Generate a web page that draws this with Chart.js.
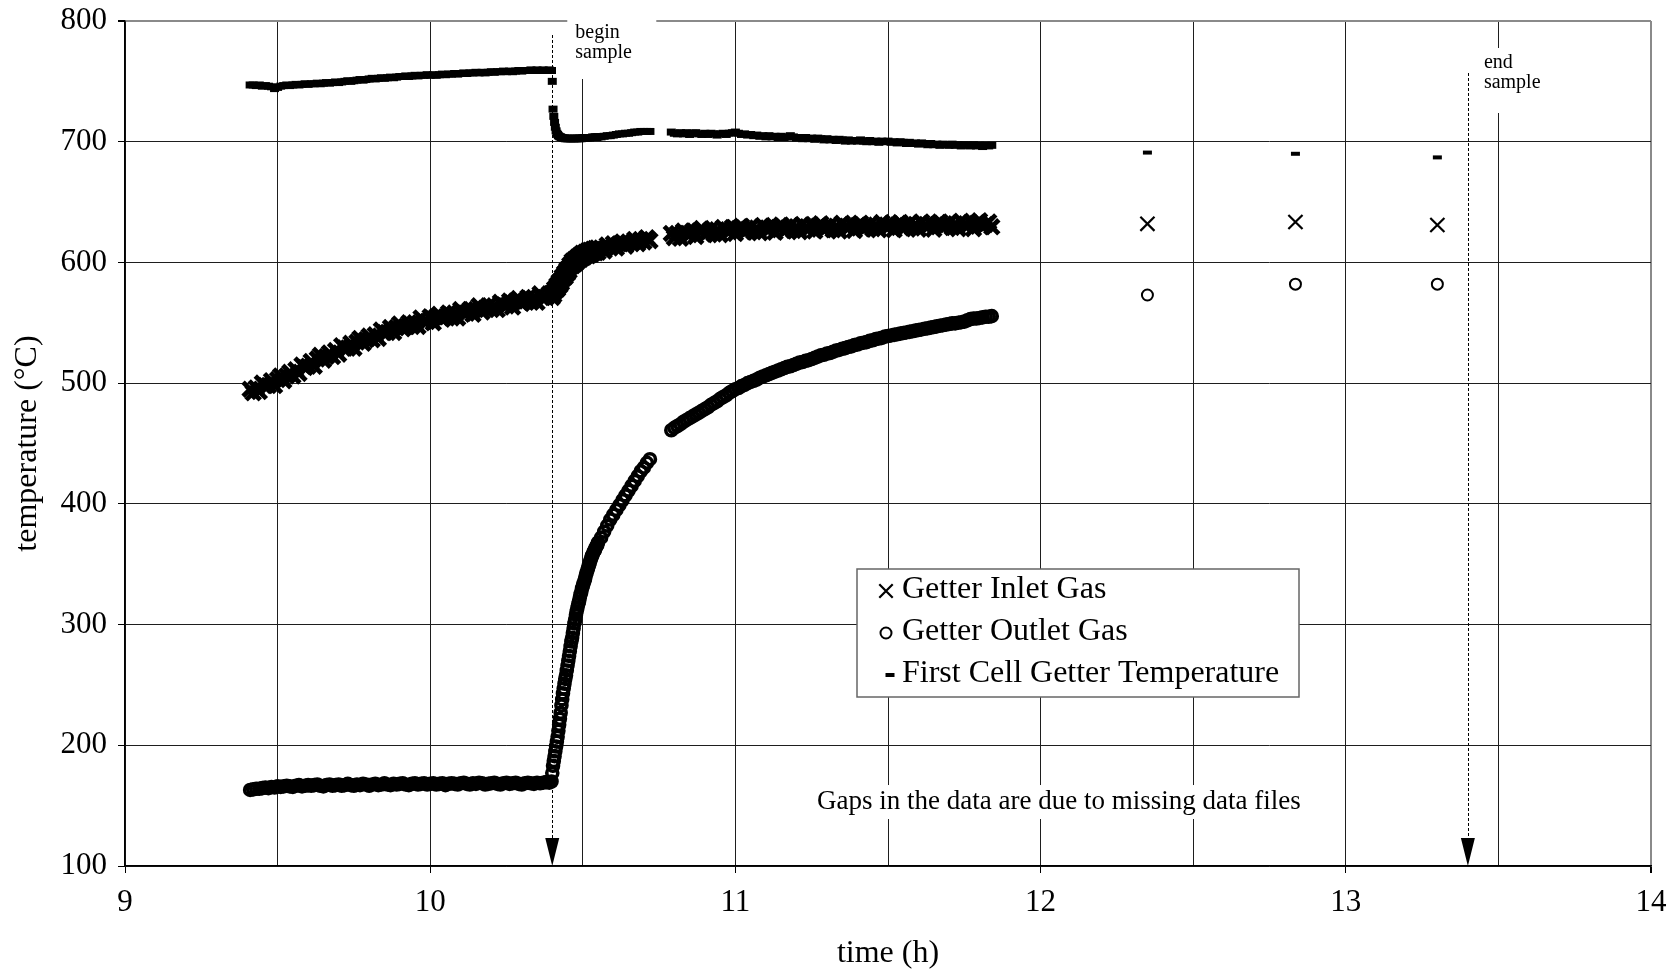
<!DOCTYPE html>
<html>
<head>
<meta charset="utf-8">
<title>Getter temperatures</title>
<script src="https://cdn.jsdelivr.net/npm/chart.js@4.4.1/dist/chart.umd.min.js"></script>
<style>
  html, body { margin: 0; padding: 0; background: #fff; }
  canvas { display: block; }
</style>
</head>
<body>
<canvas id="chart" width="1679" height="973"></canvas>
<script>
// logged time of day (h); runs are separated by the missing data files
const hours = [
  9.41, 9.42, 9.43, 9.44, 9.45, 9.46, 9.47, 9.48, 9.49, 9.5,
  9.51, 9.52, 9.53, 9.54, 9.55, 9.56, 9.57, 9.58, 9.59, 9.6,
  9.61, 9.62, 9.63, 9.64, 9.65, 9.66, 9.67, 9.68, 9.69, 9.7,
  9.71, 9.72, 9.73, 9.74, 9.75, 9.76, 9.77, 9.78, 9.79, 9.8,
  9.81, 9.82, 9.83, 9.84, 9.85, 9.86, 9.87, 9.88, 9.89, 9.9,
  9.91, 9.92, 9.93, 9.94, 9.95, 9.96, 9.97, 9.98, 9.99, 10,
  10.01, 10.02, 10.03, 10.04, 10.05, 10.06, 10.07, 10.08, 10.09, 10.1,
  10.11, 10.12, 10.13, 10.14, 10.15, 10.16, 10.17, 10.18, 10.19, 10.2,
  10.21, 10.22, 10.23, 10.24, 10.25, 10.26, 10.27, 10.28, 10.29, 10.3,
  10.31, 10.32, 10.33, 10.34, 10.35, 10.36, 10.37, 10.38, 10.39,
  // fast logging after the sample valve opened
  10.3975, 10.4, 10.4025, 10.405, 10.4075, 10.41, 10.4125, 10.415, 10.4175, 10.42,
  10.4225, 10.425, 10.4275, 10.43, 10.4325, 10.435, 10.4375, 10.44, 10.4425, 10.445,
  10.4475, 10.45, 10.4525, 10.455, 10.4575, 10.46, 10.4625, 10.465, 10.4675, 10.47,
  10.4725, 10.475, 10.4775, 10.48, 10.4825, 10.485, 10.4875, 10.49, 10.4925, 10.495,
  10.4975, 10.5, 10.5025, 10.505, 10.5075, 10.51, 10.5125, 10.515, 10.5175, 10.52,
  10.5225, 10.525, 10.5275, 10.53, 10.5325, 10.535, 10.5375, 10.54, 10.5425, 10.545,
  10.5475, 10.55,
  10.56, 10.57, 10.58, 10.59, 10.6, 10.61, 10.62, 10.63, 10.64, 10.65,
  10.66, 10.67, 10.68, 10.69, 10.7, 10.71, 10.72,
  // second file
  10.79, 10.8, 10.81, 10.82, 10.83, 10.84, 10.85, 10.86, 10.87, 10.88,
  10.89, 10.9, 10.91, 10.92, 10.93, 10.94, 10.95, 10.96, 10.97, 10.98,
  10.99, 11, 11.01, 11.02, 11.03, 11.04, 11.05, 11.06, 11.07, 11.08,
  11.09, 11.1, 11.11, 11.12, 11.13, 11.14, 11.15, 11.16, 11.17, 11.18,
  11.19, 11.2, 11.21, 11.22, 11.23, 11.24, 11.25, 11.26, 11.27, 11.28,
  11.29, 11.3, 11.31, 11.32, 11.33, 11.34, 11.35, 11.36, 11.37, 11.38,
  11.39, 11.4, 11.41, 11.42, 11.43, 11.44, 11.45, 11.46, 11.47, 11.48,
  11.49, 11.5, 11.51, 11.52, 11.53, 11.54, 11.55, 11.56, 11.57, 11.58,
  11.59, 11.6, 11.61, 11.62, 11.63, 11.64, 11.65, 11.66, 11.67, 11.68,
  11.69, 11.7, 11.71, 11.72, 11.73, 11.74, 11.75, 11.76, 11.77, 11.78,
  11.79, 11.8, 11.81, 11.82, 11.83, 11.84,
  // single readings
  12.35, 12.835, 13.3
];
const singleReadings = 3;   // trailing entries of hours that are spot readings

const inletGas = [
  495, 492, 496, 493, 500, 498, 498, 502, 498, 503,
  506, 502, 506, 509, 506, 511, 508, 515, 513, 514,
  518, 514, 520, 523, 519, 522, 525, 522, 527, 524,
  531, 529, 529, 533, 529, 534, 537, 533, 536, 539,
  536, 540, 537, 544, 542, 542, 546, 542, 546, 549,
  545, 547, 550, 547, 550, 547, 554, 551, 551, 555,
  550, 555, 557, 553, 555, 558, 554, 558, 554, 561,
  558, 558, 561, 557, 561, 564, 559, 562, 564, 561,
  564, 561, 567, 565, 564, 568, 563, 568, 570, 566,
  568, 571, 567, 571, 567, 574, 571, 571, 574,
  574, 571, 575, 573, 578, 577, 577, 581, 578, 582,
  584, 581, 585, 583, 588, 587, 587, 591, 588, 592,
  594, 591, 595, 593, 598, 597, 597, 601, 597.5, 601,
  602.5, 599, 602.5, 600, 604.5, 603, 602.5, 606, 602.5, 606,
  607.5, 604, 607, 604.5, 608.5, 607, 606, 609.5, 605.5, 609,
  610, 606.5, 609.5, 607, 611, 609, 608.5, 611.5, 608, 611,
  612, 608.5,
  612, 609.5, 614.5, 612, 615.5, 612, 615.5, 617, 613.5, 617,
  615.5, 619, 615.5, 619, 617, 620.5, 618,
  624, 620.5, 624, 620, 626, 624, 623, 626, 621.5, 626,
  628, 623, 625, 627.5, 623.5, 627, 623, 629, 626.5, 625.5,
  629, 624, 628, 630, 625, 627.5, 629.5, 625.5, 628.5, 624.5,
  630.5, 628, 627, 630, 625, 629, 631, 626, 628.5, 630.5,
  626.5, 629.5, 625.5, 631.5, 628.5, 627.5, 631, 626, 630, 632,
  627, 629, 631, 627, 630, 626, 632.5, 629.5, 628.5, 631.5,
  626.5, 630.5, 632.5, 627.5, 629.5, 631.5, 628, 631, 627, 633,
  630, 629, 632, 627, 631, 633, 628, 630.5, 632.5, 628.5,
  631.5, 627.5, 633.5, 630.5, 629.5, 632.5, 627.5, 631.5, 633.5, 629,
  631, 633, 629, 632, 628, 634, 631, 630, 633, 628,
  632.5, 634.5, 629.5, 631.5, 633.5, 629.5,
  632, 633.5, 631
];

const outletGas = [
  163, 163.5, 164, 164, 164.5, 165, 164.5, 165.5, 165, 166,
  165.5, 166, 166.5, 166, 165.5, 166.5, 167, 166, 166.5, 167,
  166.5, 167, 167.5, 166.5, 166, 167, 167.5, 166.5, 167, 167.5,
  166.5, 167, 168, 167, 166.5, 167.5, 167, 168, 167.5, 166.5,
  167.5, 168, 167, 167.5, 168.5, 167.5, 167, 168, 167.5, 168,
  168.5, 167.5, 167, 168, 168.5, 167.5, 168, 168.5, 167.5, 168,
  168.5, 167.5, 168, 168.5, 167, 168, 168.5, 168, 167.5, 168.5,
  169, 168, 167.5, 168.5, 168, 169, 168.5, 167.5, 168, 168.5,
  169, 168, 167.5, 168.5, 169, 168, 168.5, 169, 168, 167.5,
  168.5, 169, 168.5, 168, 169, 168.5, 169, 169.5, 169,
  170, 177, 183, 187, 191, 195, 199, 203, 207, 212,
  217, 222, 227, 233, 238, 243, 247, 251, 255, 258,
  262, 266, 270, 274, 278, 282, 286, 289, 293, 297,
  301, 304, 308, 311, 314, 317, 319, 322, 325, 327,
  330, 332, 334, 336, 338, 341, 343, 345, 347, 349,
  351, 353, 355, 357, 358, 360, 361, 362, 364, 365,
  366, 368,
  372, 377, 382, 387, 391, 395, 399, 403, 407, 411,
  415, 419, 423, 427, 430, 434, 437,
  461, 463, 464.5, 466, 468, 469.5, 471, 472.5, 474, 475.5,
  477, 478.5, 480, 482, 483.5, 485, 487, 488.5, 490, 492,
  493.5, 495, 496, 497.5, 498.5, 500, 501, 502, 503, 504.5,
  505.5, 506.5, 507.5, 508.5, 509.5, 510.5, 511.5, 512.5, 513.5, 514,
  515, 516, 517, 517.5, 518.5, 519, 520, 521, 522, 523,
  523.5, 524.5, 525, 526, 527, 527.5, 528.5, 529, 530, 530.5,
  531.5, 532, 533, 533.5, 534, 535, 535.5, 536.5, 537, 537.5,
  538.5, 539, 539.5, 540, 540.5, 541, 541.5, 542, 542.5, 543,
  543.5, 544, 544.5, 545, 545.5, 546, 546.5, 547, 547.5, 548,
  548.5, 549, 549.5, 549.5, 550, 550.5, 551, 552, 553, 553.5,
  553.5, 554, 554.5, 555, 555, 555.5,
  573, 582, 582
];

const cellTemp = [
  747, 747, 746.5, 747, 746, 746.5, 746, 745.5, 744, 745,
  746, 746.5, 747, 746.5, 747, 747.5, 747, 747.5, 748, 747.5,
  748, 748, 748.5, 748, 748.5, 749, 748.5, 749, 749.5, 749,
  749.5, 750, 750.5, 750, 750.5, 751, 751.5, 751, 751.5, 752,
  752.5, 752, 752.5, 753, 752.5, 753, 753.5, 753, 753.5, 754,
  754, 754.5, 754, 754.5, 755, 754.5, 755, 755, 755.5, 755,
  755.5, 755, 755.5, 756, 755.5, 756, 756, 756.5, 756, 756.5,
  757, 756.5, 757, 757, 757.5, 757, 757.5, 757, 757.5, 758,
  757.5, 758, 758, 758.5, 758, 758.5, 758, 758.5, 759, 758.5,
  759, 759, 759.5, 759, 759.5, 759, 759.5, 759, 759.5,
  759, 750, 727, 721, 716, 712, 709, 707, 706, 705,
  704.5, 704, 704, 703.5, 703.5, 703, 703, 703, 702.5, 702.5,
  703, 702.5, 702.5, 703, 702.5, 702.5, 702.5, 703, 702.5, 702.5,
  702.5, 703, 702.5, 702.5, 703, 702.5, 703, 702.5, 703, 702.5,
  703, 703, 703, 703.5, 703, 703, 703.5, 703, 703.5, 703.5,
  703, 703.5, 703.5, 703.5, 704, 703.5, 703.5, 704, 704, 703.5,
  704, 704,
  704, 704.5, 705, 705, 705.5, 706, 706.5, 706.5, 707, 707,
  707.5, 708, 708, 708.5, 708.5, 708.5, 708.5,
  708, 707, 706.5, 707.5, 706.5, 707.5, 706, 707, 707.5, 706.5,
  706, 707, 706, 707, 706.5, 705.5, 706.5, 707, 706, 707,
  707.5, 708, 707, 706, 706.5, 705.5, 706, 705, 705.5, 704.5,
  705, 704, 705, 704, 704.5, 703.5, 704.5, 703.5, 704, 705,
  704, 703, 703.5, 702.5, 703.5, 702.5, 703, 702, 703, 702.5,
  701.5, 702.5, 701.5, 702, 701, 702, 701.5, 700.5, 701.5, 700.5,
  701, 700.5, 701.5, 700.5, 700, 701, 700, 700.5, 699.5, 700.5,
  700, 700.5, 699.5, 700, 699, 700, 699.5, 698.5, 699.5, 698.5,
  699, 698, 699, 698.5, 697.5, 698.5, 697.5, 698, 697, 698,
  697.5, 697, 698, 697, 697.5, 696.5, 697.5, 697, 696.5, 697.5,
  696.5, 697, 696, 697, 696.5, 697,
  691, 690, 687
];

const seriesNames = ['Getter Inlet Gas', 'Getter Outlet Gas', 'First Cell Getter Temperature'];
const sampleWindow = [10.4, 13.4];   // begin / end of sampling (h)
const gapNote = 'Gaps in the data are due to missing data files';

const SERIF = '"Liberation Serif", "Times New Roman", serif';
Chart.defaults.font.family = SERIF;
Chart.defaults.color = '#000';

const toPoints = vals => hours.map((t, i) => ({ x: t, y: vals[i] }));
const isWhole = v => Math.abs(v - Math.round(v)) < 1e-6;
const isSpot = c => c.dataIndex >= hours.length - singleReadings;

// marker per series; the densely logged runs print with heavier strokes
const markers = [
  { pointStyle: 'crossRot', pointRadius: 10, width: 2.2, runWidth: 4.8 },
  { pointStyle: 'circle', pointRadius: 5.5, width: 2, runWidth: 3.6 },
  { pointStyle: 'line', pointRadius: 4.5, width: 4, runWidth: 7 }
];

const datasets = [inletGas, outletGas, cellTemp].map((vals, i) => ({
  label: seriesNames[i],
  data: toPoints(vals),
  showLine: false,
  borderColor: '#000',
  backgroundColor: 'rgba(0,0,0,0)',
  pointStyle: markers[i].pointStyle,
  pointRadius: markers[i].pointRadius,
  pointHoverRadius: markers[i].pointRadius,
  pointBorderWidth: c => isSpot(c) ? markers[i].width : markers[i].runWidth
}));

// begin/end sample arrows, their labels, the note and the boxed legend
const annotations = {
  id: 'annotations',
  beforeDatasetsDraw(chart) {
    const { ctx, chartArea: area, scales: { x, y } } = chart;
    const xb = x.getPixelForValue(sampleWindow[0]);
    const xe = x.getPixelForValue(sampleWindow[1]);
    ctx.save();
    ctx.fillStyle = '#fff';
    ctx.fillRect(xb + 15, 0, 89, area.top + 58);
    ctx.fillRect(xe + 12, area.top + 27, 80, 65);

    // the note sits in its own white text box
    ctx.font = '27px ' + SERIF;
    const noteW = ctx.measureText(gapNote).width;
    const nx = x.getPixelForValue(12.06), ny = y.getPixelForValue(153);
    ctx.fillRect(nx - noteW / 2 - 4, ny - 17, noteW + 8, 34);
    ctx.restore();
  },
  afterDatasetsDraw(chart) {
    const { ctx, chartArea: area, scales: { x, y } } = chart;
    const xb = x.getPixelForValue(sampleWindow[0]);
    const xe = x.getPixelForValue(sampleWindow[1]);
    ctx.save();

    // dashed drop lines ending in arrows on the time axis
    [[xb, area.top + 14], [xe, area.top + 52]].forEach(([px, top]) => {
      ctx.strokeStyle = '#000';
      ctx.lineWidth = 1;
      ctx.setLineDash([3, 2]);
      ctx.beginPath();
      ctx.moveTo(Math.round(px) + 0.5, top);
      ctx.lineTo(Math.round(px) + 0.5, area.bottom - 26);
      ctx.stroke();
      ctx.setLineDash([]);
      ctx.fillStyle = '#000';
      ctx.beginPath();
      ctx.moveTo(px - 7, area.bottom - 28);
      ctx.lineTo(px + 7, area.bottom - 28);
      ctx.lineTo(px, area.bottom);
      ctx.closePath();
      ctx.fill();
    });

    ctx.fillStyle = '#000';
    ctx.font = '20px ' + SERIF;
    ctx.textAlign = 'left';
    ctx.textBaseline = 'alphabetic';
    ctx.fillText('begin', xb + 23, 38);
    ctx.fillText('sample', xb + 23, 58);
    ctx.fillText('end', xe + 16, 68);
    ctx.fillText('sample', xe + 16, 88);

    ctx.font = '27px ' + SERIF;
    ctx.textAlign = 'center';
    ctx.textBaseline = 'middle';
    ctx.fillText(gapNote, x.getPixelForValue(12.06), y.getPixelForValue(153));

    // legend box
    const lx = 857, ly = 569, lw = 442, lh = 128;
    ctx.fillStyle = '#fff';
    ctx.fillRect(lx, ly, lw, lh);
    ctx.strokeStyle = '#666';
    ctx.lineWidth = 1.5;
    ctx.strokeRect(lx, ly, lw, lh);
    ctx.font = '32px ' + SERIF;
    ctx.textAlign = 'left';
    ctx.textBaseline = 'middle';
    seriesNames.forEach((name, i) => {
      const rowY = ly + 21 + i * 42;
      const m = markers[i];
      ctx.strokeStyle = '#000';
      ctx.fillStyle = 'rgba(0,0,0,0)';
      ctx.lineWidth = m.width;
      Chart.helpers.drawPoint(ctx, {
        pointStyle: m.pointStyle,
        radius: m.pointStyle === 'crossRot' ? 9.5 : m.pointRadius,
        rotation: 0,
        borderWidth: m.width
      }, lx + 29 + (m.pointStyle === 'line' ? 4 : 0), rowY + 1);
      ctx.fillStyle = '#000';
      ctx.fillText(name, lx + 45, rowY);
    });
    ctx.restore();
  }
};

new Chart(document.getElementById('chart'), {
  type: 'scatter',
  data: { datasets },
  options: {
    responsive: false,
    animation: false,
    devicePixelRatio: 1,
    layout: { padding: { top: 21, right: 28, left: 0, bottom: 0 } },
    plugins: {
      legend: { display: false },
      tooltip: { enabled: false }
    },
    scales: {
      x: {
        type: 'linear',
        min: 9,
        max: 14,
        afterFit: s => {
          s.height = 107;
          s.paddingLeft = 0;
          s.paddingRight = 0;
        },
        ticks: {
          stepSize: 0.5,
          autoSkip: false,
          maxRotation: 0,
          padding: 11,
          font: { size: 31 },
          callback: v => isWhole(v) ? String(Math.round(v)) : ''
        },
        grid: {
          color: c => c.tick && c.tick.value === 14 ? '#8a8a8a' : '#1e1e1e',
          lineWidth: c => c.tick && c.tick.value === 14 ? 2 : 1,
          tickLength: 7,
          tickColor: c => c.tick && isWhole(c.tick.value) ? '#000' : 'rgba(0,0,0,0)'
        },
        border: { color: '#000', width: 1.5 },
        title: {
          display: true,
          text: 'time (h)',
          font: { size: 32 },
          padding: { top: 0, bottom: 0 }
        }
      },
      y: {
        min: 100,
        max: 800,
        afterFit: s => {
          s.width = 125;
          s.paddingTop = 0;
          s.paddingBottom = 0;
        },
        ticks: {
          stepSize: 100,
          padding: 11,
          font: { size: 31 }
        },
        grid: {
          color: c => c.tick && c.tick.value === 800 ? '#8a8a8a' : '#1e1e1e',
          lineWidth: c => c.tick && c.tick.value === 800 ? 2 : 1,
          tickLength: 7,
          tickColor: '#000'
        },
        border: { color: '#000', width: 1.5 },
        title: {
          display: true,
          text: 'temperature (°C)',
          font: { size: 32 },
          padding: { top: 8, bottom: 0 }
        }
      }
    }
  },
  plugins: [annotations]
});
</script>
</body>
</html>
